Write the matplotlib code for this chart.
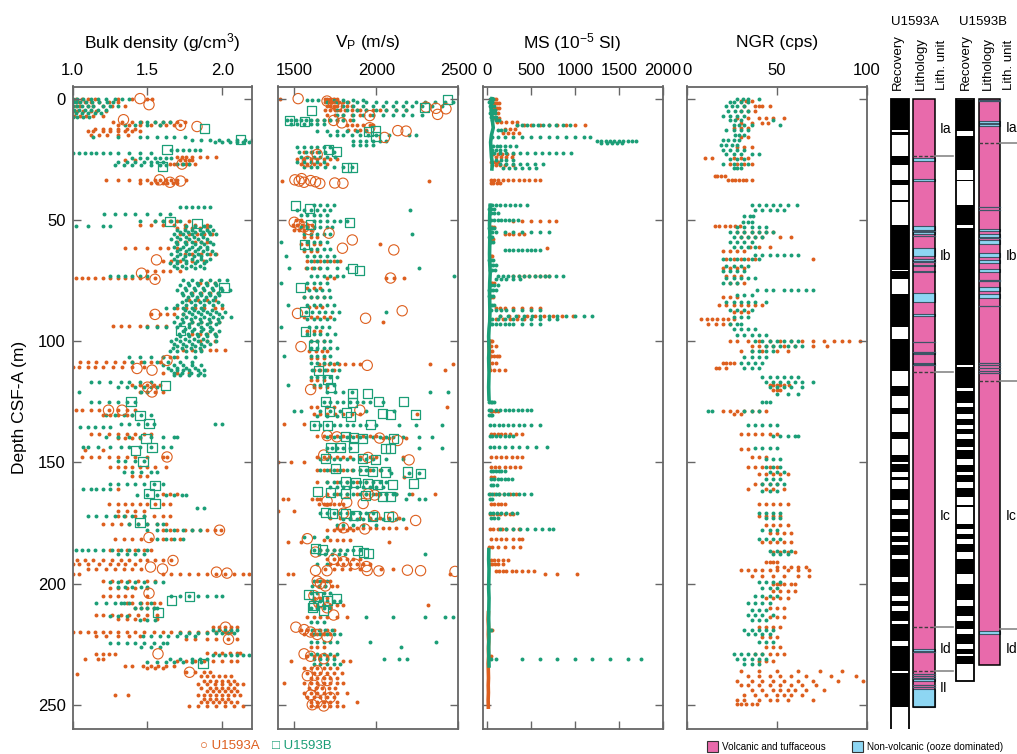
import numpy as np
import matplotlib
matplotlib.use("Agg")
import matplotlib.pyplot as plt
from matplotlib.patches import Rectangle

plt.rcParams['font.family'] = ['Liberation Sans', 'DejaVu Sans']
plt.rcParams['mathtext.fontset'] = 'custom'
plt.rcParams['mathtext.rm'] = 'Liberation Sans'
plt.rcParams['mathtext.it'] = 'Liberation Sans:italic'

ORANGE = '#dd5f1e'
GREEN = '#1b9e77'
PINK = '#e86aab'
BLUE = '#8dd6f3'
SPINE = '#666666'

# ---- data: each row is "depth: value value ..." (depth in m CSF-A) ----
dens_a = """
0: 1.02 1.06 1.1 1.15 1.3 1.4 1.5 1.53
1.5: 1.0 1.04 1.08 1.12 1.18 1.24 1.3
3: 1.02 1.05 1.1 1.14 1.2 1.26 1.35
5: 1.0 1.03 1.07 1.12 1.16 1.22
7: 1.01 1.05 1.09 1.14 1.2
9.5: 1.27 1.33 1.4 1.46 1.55 1.6 1.65 1.7 1.75
11: 1.3 1.38 1.45 1.52 1.58 1.62 1.68 1.72
12.5: 1.15 1.2 1.25 1.3 1.36 1.42
13.5: 1.1 1.14 1.2 1.25 1.3 1.35 1.4 1.45
15: 1.12 1.18 1.23 1.3 1.37
24: 1.7 1.73 1.76 1.8 1.85 1.9 1.96
25.5: 1.35 1.42 1.72 1.75 1.78 1.8
27: 1.65 1.68 1.7 1.73 1.76 1.78 1.82
33.5: 1.22 1.3 1.38 1.45 1.5 1.55 1.58 1.62 1.66 1.7 1.76
35: 1.45 1.52 1.56 1.6 1.63 1.67 1.7
50.5: 1.55 1.6 1.65 1.7 1.78
52: 1.45 1.52 1.6 1.68 1.75 1.82 1.9
53.5: 1.7 1.75 1.8 1.85 1.9
56: 1.72 1.78 1.83 1.88 1.93
59: 1.7 1.76 1.82 1.86 1.9
61.7: 1.35 1.42 1.5 1.58 1.64 1.7
64: 1.75 1.8 1.86 1.92 1.96
67: 1.6 1.66 1.72 1.8 1.88
71: 1.5 1.55 1.6 1.65 1.72
74: 1.02 1.06 1.1 1.15 1.2 1.25 1.3 1.35 1.4 1.45 1.5 1.55
76: 1.85 1.9 1.95
80: 1.8 1.86 1.92 1.97
83: 1.78 1.84 1.9 1.95
86.5: 1.7 1.76 1.82 1.88 1.95 2.0
89: 1.52 1.58 1.63 1.68 1.74
92: 1.8 1.86 1.92 1.98
93.8: 1.27 1.32 1.38 1.45 1.5 1.56 1.62
97: 1.8 1.85 1.9 1.95
100: 1.85 1.9 1.95
103.7: 1.74 1.8 1.86 1.92 1.96 2.02
106.5: 1.6 1.65 1.7
108.5: 1.05 1.1 1.16 1.22 1.28 1.34 1.4 1.46 1.52 1.58
110.5: 1.0 1.04 1.1 1.15 1.2 1.27 1.33 1.4 1.48
113: 1.6 1.7 1.78
118: 1.4 1.45 1.5 1.54 1.58
121: 1.45 1.5 1.55 1.6
128.5: 1.02 1.06 1.12 1.18 1.24 1.3 1.36 1.42
130.5: 1.2 1.25 1.3 1.36 1.4
138.5: 1.12 1.18 1.24 1.3 1.36 1.42 1.48 1.52
140: 1.3 1.35 1.4 1.45
145: 1.08 1.2
147.8: 1.06 1.12 1.18 1.24 1.3 1.36 1.42 1.5 1.6 1.63
152: 1.25 1.3 1.35 1.4 1.45 1.5 1.55 1.62
155.5: 1.4 1.45 1.5
161: 0.99 1.3
163: 1.6 1.65 1.7
167: 1.24 1.3 1.35 1.4 1.45 1.5 1.55 1.6 1.65
170: 1.3 1.36 1.42 1.48
172: 1.3 1.35 1.42 1.48 1.54 1.6 1.65
175.3: 1.2 1.26 1.32 1.38 1.44 1.5 1.56 1.62
178: 1.6 1.65 1.7 1.75 1.8 1.85 1.9 1.95 1.99
181.5: 1.28 1.34 1.4 1.46 1.52 1.6 1.66 1.72
186: 1.25 1.3 1.36 1.42 1.48 1.52
190.5: 1.03 1.08 1.14 1.2 1.26 1.32 1.38 1.45 1.5 1.55 1.6 1.66
192: 1.0 1.04 1.1 1.18 1.25 1.3 1.35 1.42
194: 1.1 1.16 1.22 1.28 1.34 1.4 1.46
196: 1.0 1.04 1.6 1.66 1.72 1.78 1.84 1.9 1.96 2.02 2.08 2.14 2.18
199: 1.2 1.26 1.32 1.38 1.44 1.5 1.55
202: 1.25 1.3 1.36 1.42 1.5
205: 1.2 1.25 1.3 1.35 1.4 1.5
208: 1.36 1.4 1.46 1.5 1.54 1.58
210: 1.42 1.46 1.5 1.54
213: 1.16 1.2 1.26 1.32 1.38 1.44 1.5 1.56
214.5: 1.3 1.36 1.42 1.48 1.56
218: 1.94 1.98 2.02 2.06 2.1
220: 1.0 1.05 1.1 1.15 1.2 1.25 1.3 1.36 1.42 1.48 1.54 1.6 1.66 1.72 1.78 1.84 1.9 1.96 2.02 2.06
221.5: 1.16 1.22 1.3 1.38 1.45
223: 1.76 1.82 1.9 1.96 2.04 2.1
228.5: 1.9 1.95 2.0 2.05 2.1 2.12
229: 1.16 1.2 1.24 1.28
231: 1.08 1.17 1.2
232: 1.7 1.76 1.82 1.88 1.94 2.0 2.06 2.1
234: 1.35 1.4 1.47 1.52 1.57 1.62 1.68
235: 1.5 1.55 1.6
236.6: 1.76 1.82 1.88 1.92
237.3: 1.03
238: 1.86 1.9 1.94 1.98 2.02 2.06
240: 1.88 1.92 1.96 2.0 2.04 2.08
241.5: 1.84 1.9 1.95 2.0 2.05 2.1 2.14
243: 1.86 1.92 1.96 2.0 2.04 2.08
244.5: 1.9 1.94 1.98 2.02 2.06 2.1
246: 1.28 1.37 1.84 1.88 1.92 1.96 2.0 2.04 2.08 2.12
247.5: 1.88 1.92 1.96 2.0 2.04
249: 1.86 1.9 1.94 1.98 2.02 2.06 2.1
250.5: 1.78 1.84 1.9 1.96 2.02 2.08 2.14
"""

dens_b = """
0: 1.0 1.03 1.07 1.12 1.17 1.22 1.28 1.33 1.38
1.5: 1.0 1.02 1.05 1.09 1.13 1.18 1.23 1.27
3: 1.0 1.03 1.06 1.1 1.14 1.2 1.25 1.3
4.5: 1.01 1.04 1.08 1.12 1.17 1.22
6: 0.99 1.02 1.06 1.1 1.15 1.19
7.5: 1.0 1.03 1.07 1.11
9.5: 1.45 1.5 1.55 1.6 1.65
11: 1.35 1.42 1.5 1.58
15.8: 1.14 1.3 1.45 1.5 1.56 1.62 1.68 1.75
17: 1.8 1.86 1.92 1.98 2.04 2.1 2.15 2.2
18: 1.95 2.0 2.05 2.1 2.14 2.18
21: 1.66 1.7 1.74 1.78 1.82 1.85
22.5: 1.0 1.04 1.08 1.12 1.16 1.2 1.25 1.3 1.38 1.45 1.52
24.5: 1.4 1.45 1.5 1.55 1.58 1.62 1.66
26: 1.3 1.36 1.42 1.48 1.52 1.56 1.6
26.8: 1.7 1.74 1.78
27.5: 1.28 1.34 1.4 1.46 1.52 1.58 1.62
44.5: 1.72 1.76 1.8 1.84 1.88 1.92
47.5: 1.21 1.28 1.35 1.42 1.5 1.58 1.65
50.5: 1.45 1.55 1.6 1.66 1.72
52.6: 1.02 1.1 1.2 1.25 1.76 1.82 1.88 1.92
54: 1.7 1.75 1.8 1.85 1.9 1.94
55: 1.72 1.77 1.82 1.87 1.91
56: 1.68 1.74 1.8 1.86 1.92 1.96
57: 1.7 1.76 1.81 1.87
58: 1.66 1.72 1.78 1.84 1.9
59: 1.69 1.75 1.8 1.86 1.92
60: 1.7 1.76 1.82 1.88 1.94
61: 1.68 1.74 1.8 1.85 1.9
62: 1.72 1.78 1.84 1.9
63: 1.7 1.76 1.82 1.87 1.93
64: 1.66 1.72 1.78 1.84 1.9 1.95
65: 1.7 1.75 1.81 1.86
66: 1.68 1.74 1.8 1.86 1.92
67: 1.7 1.76 1.83 1.89
68: 1.65 1.7 1.76 1.82 1.88
69: 1.68 1.73 1.79 1.85
70: 1.7 1.76 1.82 1.88
73: 1.25 1.3 1.35 1.4 1.45 1.5
75: 1.74 1.8 1.86 1.92 1.98 2.03
76: 1.77 1.83 1.89 1.95
77: 1.72 1.78 1.84 1.9 1.96
78: 1.75 1.81 1.87 1.93 1.99
79: 1.7 1.76 1.82 1.88 1.94 2.0 2.05
80: 1.73 1.79 1.85 1.91 1.97
81: 1.74 1.8 1.86 1.92 1.98
82: 1.77 1.83 1.89 1.95
83: 1.76 1.82 1.88 1.94
84: 1.73 1.79 1.85 1.91 1.97
85: 1.7 1.76 1.82 1.88 1.94 2.0
86.5: 1.62 1.68 1.74 1.8 1.86
87.3: 1.75 1.81 1.87 1.93
88: 1.78 1.84 1.9 1.96 2.02
89: 1.74 1.8 1.86 1.92 1.98
90: 1.7 1.76 1.82 1.88 1.94 2.0 2.06
91: 1.73 1.79 1.85 1.91 1.97
92: 1.68 1.74 1.8 1.86 1.92 1.98
93: 1.72 1.78 1.84 1.9 1.96
94: 1.5 1.56 1.62 1.7 1.78 1.86 1.92
95: 1.75 1.81 1.87 1.93
96: 1.74 1.8 1.86 1.92 1.98
97: 1.71 1.77 1.83 1.89 1.95
98: 1.72 1.78 1.84 1.9 1.96
99: 1.69 1.75 1.81 1.87
100: 1.66 1.72 1.78 1.84 1.9 1.96
101: 1.68 1.74 1.8 1.86 1.92
102: 1.7 1.76 1.82 1.88
103: 1.67 1.73 1.79 1.85
104: 1.65 1.7 1.76 1.82 1.86
106.5: 1.38 1.45 1.52 1.6 1.68 1.76 1.82
108.5: 1.4 1.48 1.56 1.64 1.72 1.8
110: 1.6 1.68 1.74 1.8 1.86
111: 1.64 1.7 1.76 1.82
112: 1.66 1.7 1.74 1.78 1.84 1.88
113: 1.68 1.73 1.79 1.85
114: 1.68 1.72 1.78 1.84 1.88
117: 1.12 1.18 1.25 1.32 1.38 1.45 1.52
119: 1.3 1.36 1.42 1.48 1.52 1.56
121: 0.99 1.04 1.46 1.5
125: 1.12 1.18 1.24 1.3 1.36 1.42
130.5: 1.22 1.28 1.34 1.4 1.46 1.52
134: 1.32 1.38 1.44 1.5 1.54 1.95 2.0
135.5: 1.05 1.1 1.15 1.2 1.25
139.5: 1.22 1.3 1.38 1.45 1.52 1.6 1.68 1.7
143.7: 1.07 1.1 1.17 1.25 1.32 1.38 1.45 1.52 1.6 1.66
149.5: 1.3 1.35 1.42 1.48
154: 1.34 1.4 1.46 1.52 1.56
158.8: 1.25 1.3 1.36 1.42 1.48 1.54 1.6
161: 1.07 1.12 1.16 1.2 1.25
163.6: 1.43 1.5 1.56 1.62 1.68 1.73 1.76
169: 1.83 1.88
172: 1.1 1.16 1.22 1.28 1.34 1.4 1.48
175.5: 1.38 1.44 1.5 1.56 1.6
178: 1.5 1.56 1.62 1.68 1.74 1.8 1.85
181.5: 1.56 1.62 1.68 1.74
186: 0.99 1.02 1.06 1.1 1.15 1.2 1.26 1.32 1.38 1.44 1.5
188: 1.3 1.36 1.42 1.48
199.5: 1.25 1.3 1.36 1.42 1.48 1.55 1.6
201.5: 1.3 1.35 1.4 1.46 1.5
205: 1.66 1.72 1.78 1.84 1.9 1.96 2.0
208: 1.16 1.22 1.28 1.32 1.34 1.38 1.45 1.52
210: 1.42 1.46 1.5 1.54 1.56
213.5: 1.25 1.3 1.36
215: 1.45 1.5 1.55
219: 1.94 1.98 2.02 2.06 2.1
220.5: 1.72 1.78 1.84 1.9 1.96 2.0 2.04 2.08
221.5: 1.47 1.52 1.58 1.64 1.7 1.76 1.82
224.5: 1.25 1.3 1.36 1.42 1.48 1.54 1.6 1.63
226: 1.46 1.52 1.58
229.5: 1.94 1.98 2.02 2.06 2.1 2.14 2.18
231: 1.65 1.72 1.8 1.85 1.9
232.5: 1.5 1.56 1.62 1.68 1.74 1.8 1.86
"""

# discrete (MAD) bulk density samples
dens_a_mad_d = [0, 2.5, 8.7, 11, 11.5, 27, 33.5, 34.5, 34, 66.5, 72, 74.5, 89, 108, 111.3, 112, 119, 121,
                128.5, 128.5, 147.8, 178, 181, 190.5, 193.2, 194, 195.3, 195.7, 204, 218, 223, 229, 236.6]
dens_a_mad_v = [1.45, 1.51, 1.34, 1.72, 1.83, 1.73, 1.58, 1.65, 1.72, 1.56, 1.46, 1.55, 1.55, 1.63, 1.43, 1.53, 1.5, 1.53,
                1.24, 1.33, 1.63, 1.98, 1.51, 1.67, 1.52, 1.6, 1.96, 2.03, 1.51, 2.02, 2.04, 1.57, 1.78]
dens_b_mad_d = [12.4, 17, 21, 28, 50.7, 51.4, 77.8, 95.5, 118.2, 125, 130.6, 134, 140.2, 143.7, 145, 149.8,
                159.5, 163, 167, 175, 205.4, 207, 211.8, 233]
dens_b_mad_v = [1.88, 2.12, 1.63, 1.6, 1.65, 1.83, 2.01, 1.72, 1.62, 1.39, 1.45, 1.51, 1.49, 1.53, 1.42, 1.47,
                1.55, 1.51, 1.55, 1.45, 1.78, 1.66, 1.57, 1.87]

vp_a = """
0: 1413 1686 1700 1720 1740 1760
1.5: 1690 1710 1730 1750 1770 1800 1830
3: 1700 1720 1740 1760 1790 1820 1850
4.6: 1690 1720 1750 1780 1810 1850 1880 1900 1940 1980 2020 2060 2120 2180
6.6: 1700 1750 1800 1850 1900 1960
9: 1640 1680 1720 1760 1800 1840
11: 1820 1850 1880 1920 1960 1980
13: 1830 1870 1900 1940
22: 1560 1600 1640
25: 1520 1560 1600 1640 1680 1720 1760
27: 1540 1580 1620 1660 1700
34: 1423 2324
50: 1510 1540
52: 1490 1520 1550 1580 1610
54: 1500 1530 1560 1600
57: 1560 1600 1640
60: 1540 1580 1620 1660 2020
63: 1560 1600 1640
67: 1580 1620 1660 1700 1740 1780
70: 1570 1610 1650
74: 1700 1740 2060 2110 2170
78: 1580 1620 1660
82: 1560 1600 1640 1680
86: 1590 1630 1670
90: 1560 1600 1640 1680 1720
92: 2040
96: 1580 1620 1660
100: 1600 1640 1680
104: 1590 1630 1670 1700
107: 1600 1640 1680
109.5: 1650 1680 1710 1740 1770 1810 1860 1900 2330 2470
112: 1620 1660 1700 1740 2420
116: 1600 1640 1680
119: 1620 1660 1700
127: 1600 1640 1700 1740 2430
130: 1620 1660 1700 1750 1800 1850 1900 2250
134: 1440 1560
139: 1640 1680 1720 1760 1800 1840 1880 1920 1960 2000
140: 2040 2080 2180
147.8: 1640 1680 1720 1760 1800 1840 1900 1960 2000 2160
150: 1400 1480 1560
153: 1640 1680 1720 1760 1800 1850 1900 1960 2020
156: 2170
158: 1640 1700 1760 1820 1880 1940
163: 1700 1760 1820 1880 1940 2000 2060 2120 2220 2360
165: 1430 1460 1610 1640 1660
167: 1650 1680 1700 1720 1740 1770 1800
170: 1400 1500
173: 1720 1780 1840 1900 1960 2020 2080 2140
177: 1760 1800 1840 1880 1920 1960 2000 2040 2080 2120 2180
178: 1700 1740 1780 1820 1860
182: 1680 1720 1760 1800 1840
183: 1460 1540 2080
186: 1660 1700 1740 1780
190: 1700 1740 1780 1820 1860 1900
192: 1720 1760 1800 1840 1880 1920 1960
194: 1690 1740 1790 1840 1900 2030 2100
196: 1460 1490 2450
199: 1640 1680 1720
201: 1650 1690 1730 1760
206: 1620 1660 1700
209: 2314 1640 1680 1720 1760 1800
214: 1580 1620 1660 1700 1760 1820
219: 1540 1580 1620 1660 1700 1740
221: 1560 1600 1640 1680 1720
226: 1600 1640 1680
230: 1580 1620 1660 1700 1740
232: 1480 1800 1840
235: 1560 1600 1640 1680 1720 1760
237: 1580 1620 1660 1700 1740 1790
239: 1600 1640 1680 1720 1760
241: 1440 1560 1600 1640 1680 1720 1760 1800
243: 1590 1630 1670 1710 1750
245: 1560 1600 1640 1680 1720 1760 1820
247: 1580 1620 1660 1700 1740
249: 1600 1640 1680 1720 1760 1880
250.5: 1600 1640 1680 1720 1760 1800
"""

vp_b = """
0.5: 1575 1610 1645 1740 1800 1860 1920
1.5: 1700 1760 1820 1880 1940 2000 2060 2120 2180 2240 2300 2360 2420 2465
3: 1800 1860 1920 1980 2040 2100 2160 2220 2280 2340 2400
4.5: 1760 1820 1880 1940 2000 2060 2120 2180
6.8: 1760 1800 1860 1920 1980 2040 2100 2160 2220 2280
9: 1453 1480 1510 1540 1570 1600 1640 1680 1720 1760 1800 1858
10.5: 1480 1520 1560 1600 1640 1680
13.5: 1640 1700 1760 1820 1880 1940
15: 1716 1760 1800 1850 1900 1950 2000 2080 2200 2240
17.5: 1860 1900 1940 1980 2020 2060
19: 1860 1900 1940 1980
20: 1520 1560 1600 1640 1680 1720
22: 1530 1570 1610 1650 1690 1740
24: 1540 1580 1620 1660 1700 1750
26: 1520 1560 1600 1640 1680
28: 1560 1600 1640 1690 1740 1800 1850
44: 1620 1660 1700 1740
46: 1520 1560 1600 1640 1680 1720 2208
48: 1540 1580 1620 1660 1700
50.5: 1620 1660 1700 1740 1780 1820
53: 1540 1580 1620 1660 1700 1730
56: 1560 1600 1640 1680 1720 2218
59: 1420 1580 1620 1660 1700
62: 1560 1600 1640 1680 1720
65: 1450 1580 1620 1660 1700 1740
67: 1600 1640 1680 1720 1760
70: 1470 1580 1620 1660 1700 1760 1820 2259
73: 1600 1640 1680 1720 1760 1800 2471
76: 1420 1580 1620 1660 1700
79: 1590 1630 1670 1710
82: 1560 1600 1640 1680 1720
85: 1460 1580 1620 1660 1700 1740
88: 1570 1610 1650 1690 1730 1770 2060
91: 1580 1620 1660 1700 1740
94: 1420 1590 1630 1670 1710
97: 1580 1620 1660 1700 1750
100: 1600 1640 1680 1720
103: 1600 1640 1680 1720 1760
106: 1440 1600 1640 1680 1720
109: 1600 1640 1680 1720 1760
112: 1610 1650 1690 1730 1770
115: 1600 1640 1680 1720 1760
118: 1460 1620 1660 1700 1740
121: 1700 1750 1800 1850 2330 2440
125: 1680 1720 1760 1800 1840 1880 1920 1960 2040
129: 1500 1540 1660 1720 1780 1940 2110
131: 1640 1700 1760
134.5: 1620 1660 1700 1740 1780 1820 1860 1900 1940 2000 2140 2240 2400
139.5: 1700 1740 1780 1820 1860 1900 1940 1980 2020 2060 2100 2160 2260 2340
144: 1700 1730 1760 1800 1840 2260 2400
148.5: 1660 1700 1740 1780 1820 1860 1900 1940 1980 2060 2160
153: 1660 1700 1740 1780 1820 1860 1900 1940 1980 2030 2080
154.5: 2090 2200 2260
158: 1700 1740 1780 1820 1860 1900 1940 1980 2020 2060
160: 1720 1760 1800 1840 1880 1920 1960 2000 2040
163: 1740 1780 1820 1860 1900 1940 1980 2020 2060 2100 2120 2200
165: 2180 2260 2300
171: 1660 1700 1740 1780 1820 1860 1900 1940 1980
173.5: 1800 1840 1880 1920 1960 2000 2040 2080 2120 2160
176: 1760 1800 1860 1920 2000
181: 1560 1620 1700
186: 1620 1660 1700 1740 1780 1820 1860 1900
188: 1650 1690 1730 1770 1810 2300
192: 1640 1700
199: 1620 1660 1700
201: 1610 1650 1690
204: 1600 1640 1680 1720
207: 1620 1660 1700 1740 1780
210: 1600 1640 1680 1720
214: 1940 2100 2300 2420 2465
216: 1600 1640 1680
219: 1610 1650 1690 1730
221: 1620 1660 1700 1740 1780
224: 1600 1640 1680 1720 1760 1960 2364
226: 2152
229: 1600 1640 1680 1720 1760
231: 1620 1660 1700 1740 2050 2140 2190
233: 1620 1660 1700 1740 1780
"""

# discrete P-wave caliper measurements
vp_a_disc = """
0: 1524
1: 1700
2: 1740
3: 1760
3.5: 2303
4: 2364
4.2: 2425
6.5: 2374
7: 1960
9: 1740
10: 1790
12: 1960
13.2: 2131
13.4: 2182
16: 2050
23: 1640
26: 1580
33: 1545
33.5: 1504
33.8: 1600
34: 1530
34.3: 1630
34.5: 1560
34.8: 1747
34.9: 1797
35: 1656
51: 1500
52: 1530
53: 1560
54: 1590
55.5: 1712
58.3: 1854
61.7: 1794
62.4: 2107
74: 2087
87.5: 2158
88.6: 1520
90.6: 1935
102.3: 1541
110: 1945
120: 1600
128.5: 1900
139: 1700
139.5: 1760
140: 2020
141: 2130
147: 1680
148: 1950
149: 2200
163: 1950
163.5: 1990
166: 1700
166.5: 1820
167: 1920
171: 1800
172: 1990
172.5: 2100
174: 2240
177: 1800
177.5: 1930
181.5: 1580
187: 1630
190: 1740
191: 1800
192: 1870
193: 1940
194.6: 1630 1945
194.7: 1700 2270
194.8: 2016
194.5: 2190
195: 2480
199: 1640
200: 1660
201: 1690
205: 1620
208: 1650
210: 1700
213: 1740
218: 1510
219: 1560
220: 1600
221: 1640
222: 1700
229: 1560
230: 1600
231: 1680
236: 1640
238: 1580
240: 1700
242: 1620
244: 1660
246: 1600
247: 1720
249: 1640
250: 1610
250.5: 1680
"""

vp_b_disc = """
0.5: 2435
3.5: 2293
5: 1605
9: 1470
9.5: 1560
13: 1996
13.4: 1953
15.5: 1996
21: 1710
22: 1760
28.4: 1818
28.6: 1858
44: 1510
45.5: 1591
51: 1838
52: 1600
60: 1560
70: 1854
71: 1895
78: 1540
88: 1560
96: 1570
102: 1620
112: 1650
116: 1700
119: 1720
121.6: 1854
121.8: 1945
125: 1692 2016 2168
125.2: 1854
129: 1713
129.5: 1820
130: 2037
130.2: 2087
130.4: 2240
131: 1840
134.7: 1622
134.8: 1702
134.6: 1965
139.5: 1814
139.8: 1864
140: 1915 2107
143.7: 1723
144: 1783 1864
144.5: 2057
144.4: 2087
148.5: 1692
148.6: 1915
148.8: 1996
152.6: 1753
153.4: 1925
153.6: 1975
154: 2057 2188
154.6: 2269
157.8: 1814
158.3: 1874
158.6: 1945 2228
159: 2006
159.2: 2097
162: 1642
162.6: 1723
163: 1814
163.5: 1935
164.2: 2037
164.3: 2087
170.5: 1692
171: 1733
171.3: 1814
171.8: 1874
172.2: 1975
172.5: 2077
185.5: 1632
186: 1672
186.5: 1885
187: 1925
187.5: 1955
204.5: 1590
205.5: 1640
206: 1760
207: 1700
209: 1620
210: 1610
211: 1680
"""

ms_a = """
0: 60 80 100
2: 70 90 110 130
4: 50 80 110 140
6: 60 90 120
8: 70 100 130
9.5: 110 160 220 280 337
11: 340 420 500 600 700 800 900 1000 1114
12.5: 200 260 320
14: 180 240 300 360
23: 70 120 170 230 290
24: 100 160 220 280
26: 40 60 90 120
27.5: 60 100 150 200 300
33.5: 40 80 120 180 240 300 360 420 480 540 603
35: 40 70 110 150
50.5: 300 400 500 600 700 790
53: 40 60 80
56: 200 250 300 360 420
58: 30 50 70
61.7: 680
65: 40 60
73: 300 360 420 480 540 600 660 710
76: 40 60 80
82: 30 50 70
86.5: 100 150 200 300 400 500 600
89.5: 150 250 350 450 550 650 750 850 980
91: 100 180 260 340 420
100: 20 40 60
102: 20 50 100
104: 30 60
106: 20 50 80 110 130
109: 20 60 100
112: 30 80 140 200
129: 40 60 90 120
138.5: 40 80 120 160 200 260 330 400
147.8: 40 100 160 220 280 340 400
152: 40 90 140 200 260 320 380
156: 40 80
163: 30 80 130 190 260 330
167: 40 80 120 160 200
171.5: 30 70 110 150 200 260 300
177.5: 30 70 120 170 220 300 360
181.5: 40 100 160 220 300 360 400
185: 20 60 120 200 300 380
190.5: 40 80 120 180 240
192: 30 60 90 120 180
195: 100 140 180 220 280 330 400 470 530
196: 659 792 1020
219: 30 60
230: 40
"""

ms_b = """
0: 30 50 70
1.5: 20 40 60
3: 30 50 80
4.5: 40 60 90
6: 30 60 90
7.5: 40 70 100
9: 60 100 140
11: 340 400 460 520 580 640 700 780 860 944
13: 120 160 200
15.8: 53 120 200 300 400 500 600 700 800 900 1000 1100 1171
17.3: 1247 1300 1350 1400 1450 1500 1550 1600 1650 1700
18.5: 1300 1360 1420 1480 1540
19.5: 70 110 150 200 260 330
21: 60 100 150 200
22.5: 80 150 220 300 380 460 540 620 700 780 860 953
25.5: 100 160 220 300
27: 150 220 300 380 460 540 640
28.5: 180 250 320 400 480 560
44: 30 60 100 150 200 260 320 380 450
45.5: 20 40 80
47: 30 50 80 120
50: 40 80 120 160 200 250 300 350
53.5: 25 40 60 80
55: 30 60 100 200 300 400 500 600 700
57: 25 40 55
59: 30 50 70
62.5: 200 250 300 350 400 450 500 550 600
66.5: 25 45 65
68.5: 40 70 100
70.5: 30 60 90
73: 120 180 240 300 360 420 480 540 600 660 700 780 860
74.5: 100 160 220 300 380
77: 30 50 80 120
79: 20 40 70 100
81.5: 20 45 70
85: 30 55 80
87: 50 100 160 220 300 400 500 600
89.5: 150 240 330 420 510 600 700 800 900 1000 1100 1200
91: 60 120 200 300 400 500 600 700 800
93: 30 60 100 150 200 250 300 400 500 600
125: 20 40 60 80
128.5: 20 50 100 150 200 250 300 350 400 450 500
130.5: 20 40 60
134.5: 30 80 130 180 240 300 360 420 500 600
139: 30 60 100 150 200 250 300
143.7: 30 80 140 200 280 360 460 560 680
153.5: 40 70 100 130 160 200
157: 40 80 120 160 200 240 280
159.5: 40 70 110
163: 20 60 100 140 190 240 300 360 420 500
165: 30 60
171: 30 70 110 160 220 280 340
173: 40 80 120
177.4: 148 220 300 380 460 540 620 700 754
219: 40
231: 50 100 400 600 800 1000 1200 1400 1600 1750
"""

# near-zero MS baseline traces (continuous runs of readings)
ms_a_base_d = [100, 103, 106, 109, 112, np.nan, 212, 215, 218, 221, 224, 227, 230, 233, 236, 239, 242, 245, 248, 251]
ms_a_base_v = [25, 22, 28, 24, 30, np.nan, 15, 12, 16, 14, 18, 15, 17, 12, 14, 16, 13, 15, 12, 14]
ms_b_base_d = [0, 3, 6, 9, 12, 15, 18, 21, 24, 27, 29, np.nan, 44, 48, 52, 56, 60, 64, 68, 72, 76, 80, 84, 88, 92,
               95, 98, 101, 104, 107, 110, 113, 116, 119, 122, 124, np.nan, 186, 190, 194, 198, 202, 206, 210, 214,
               218, 222, 226, 230, 234]
ms_b_base_v = [55, 45, 50, 60, 70, 50, 40, 45, 50, 60, 55, np.nan, 35, 30, 28, 32, 30, 28, 30, 35, 30, 28, 30, 32, 30,
               22, 18, 20, 22, 18, 20, 22, 20, 18, 20, 22, np.nan, 20, 18, 22, 20, 18, 22, 20, 18, 20, 22, 18, 20, 22]

ngr_a = """
1: 30 33 36
3: 32 38 42 46 40
5: 30 34 38
8: 28 34 40 44 48 54
10: 30 36 42 45
12: 26 30 34
16: 30 34
20: 28 32 36
24.5: 10 14 26 30 34
27: 24 28 32 36
32: 15.7 17 19 21.3
33.5: 23 25 27 29 31 33 36
52.5: 15.7 18 21 24 27 29.6
55: 28 32 36 40 44 48
57: 30 34 38 42 52 58
61: 35 40 46
63: 20 24 28 32
66: 22 26 30 34 38 70
70: 20 24 28 32
73: 22 26 30
76: 24 28 32
82: 20 24 28
85: 18 22 26 30 34 38 42
88: 26 30 34
91: 8 11 14 17 20 23 26
93: 12 16 20 24
100: 24 28 34 40 46 52 58 64 70 76 82 86 90 96
102: 36 40 44 48 54 60 70 78
104: 30 36 42 50 56
109: 20 22 24 26
111: 16 18 22
118: 46 48 50 52 54 57
120: 48 50 52
129: 20 24 28 32 36 40 44
130: 26 30
138.5: 30 34 38 42 46 50
144.5: 30 34
148: 36 40 44
152: 34 38 42 46 50
155: 40 44 48 52 56
159: 38 42 46 50
161: 34 44 48 54
167: 40 44 48 52 56
172: 40 44 48 52
176: 44 48 52 56
179: 46 50 54 58
183: 42 46 50 54 58
187: 48 52 56 60
191: 44 46 48 50
193: 50 54 58 62 66
194.6: 30 34 38 42 46 50 56 62 68
197: 36 42 48 54 62 68
200: 48 50 52 54 58 60
203: 48 52 56 60
206: 44 48 52 56
210: 46 50 54
214: 46 50 54
218: 40 44 48 52
222: 42 46 50
226: 44 48 52
229: 38 42 46 50 54
232: 40 44 48
236: 30 40 50 62 74 86
238: 34 40 46 52 58 66 80 94
240: 28 36 42 48 54 62 70 84 98
242: 30 34 40 46 52 58 64 72
244: 36 42 48 52 56 60 66 76
246: 32 38 44 50 54 58 64
248: 28 32 40 46 50 56 70
249.5: 28 30 33 36 39
"""

ngr_b = """
0: 28 31 34 40
1.5: 24 26 30 34
3: 22 25 28 32
5: 23 27 30 34
7: 20 24 28 32
9: 24 27 30 48
11: 26 29 32 36 52
13: 22 26 30 34
15: 27 29 32
17: 20 23 26 29
19: 19 22 25 28
21: 20 24 28 32
23: 22 26 30 36 40
25: 24 28 32
27: 20 26 30 34
28.5: 26 28 30
44: 36 40 44 48 52 56 61
46: 38 42 46 50 54
48.5: 32 35 37
51: 31 34 36
53: 28 32 36 40 44
55: 24 28 32 36 40 44 48
57: 26 30 34 38 42
59: 24 28 32 36
61: 26 30 34 38
64.5: 38 42 46 50 54 58 62
66: 20 24 28 32 36 40
69: 22 26 30 34
71: 20 24 28 32
74: 22 26 30 34 38
76: 20 24 28
79: 39 44 48 54 58 62 66 70
81: 28 32 36
84: 22 26 30 34 38 44
87: 24 28 32 36
90: 26 30 34
93: 24 28 30
95: 26 30 34 38
97.5: 28 32 36 40 44
100: 38 42 46 50 54 58 62
102: 44 48 52 56 60 64
104: 36 40 44 48
106.5: 32 36 40 44
109: 30 34 38 42
111: 32 36 40
115: 42 46 50 54 58 62
117: 44 48 52 56 60 64 70
119: 46 50 54 58 64
122: 50 56 62
125: 42 44 46
129: 12 14 32 36 40
134.5: 34 38 42 46 50
139: 48 52 56 60 62
144: 38 42 46 50
148.5: 44 48 52
152: 44 48 52
154: 46 50 54
157: 44 48 52
159: 42 46 50 54
162: 42 46 50
171: 40 44 48 52
173: 44 48 52
178: 42 46 50
181.5: 40 44 48 52
186.5: 46 50 54 58
188: 48 52 56
199.5: 40 44 48 52
202: 42 46 50
205: 38 42 46 50
208: 34 38 42 46
211: 36 40 44
213: 34 38 42 48
215: 36 40 44
219: 32 36 40 44 48
221: 34 38 42 46
224: 40 44 48
229: 26 30 34 38 42
231: 28 32 36 40 44
233: 32 36 40
"""

# core recovery (recovered intervals, m) and lithology
rec_a = [(0, 13.1), (13.9, 14.9), (23.8, 27.3), (33.5, 35.5), (42, 42.5), (52, 70.5), (71, 74.4), (80.6, 94.4),
         (99.2, 112.3), (118.5, 122.6), (127.8, 129.9), (137.5, 140.2), (147.1, 149.9), (150.6, 154),
         (156.1, 157.5), (160.9, 165.7), (169.2, 171.9), (173.3, 178.8), (180.2, 183), (184.3, 188.4),
         (189.8, 197.4), (199.5, 205), (207, 209.1), (211.2, 215.3), (216.7, 223.6), (225.6, 236), (236.7, 251.1)]
rec_b = [(0.4, 13.5), (15.6, 29.4), (33.5, 33.9), (43.8, 52), (53.4, 109.9), (110.6, 119.5), (120.5, 125.5),
         (127.2, 129.9), (132, 134.7), (136.1, 138.2), (140.2, 143.7), (145, 148.5), (151.3, 154), (155.4, 158.1),
         (160.5, 164.3), (167.8, 168.5), (175.4, 177.4), (179.5, 181.6), (183.9, 187.1), (189.8, 196),
         (200.2, 207), (209.1, 213.2), (215.3, 218.8), (220.8, 224.9), (227, 229.1), (229.8, 233.2)]
hole_bottom = {'A': 260.5, 'B': 240.4}
lith_bottom = {'A': 250.8, 'B': 233.5}
nonvolc_a = [(24.6, 25.6), (33.2, 33.9), (52.4, 54.1), (55.2, 55.8), (61.7, 65.1), (66.3, 67), (68.5, 69),
             (71, 71.5), (80.3, 83.7), (88.9, 89.6), (105, 105.5), (109, 109.5), (227, 228), (239.5, 240.3),
             (243.3, 250.8)]
nonvolc_b = [(9.3, 9.9), (10.5, 11.1), (53.8, 54.8), (55.7, 57.1), (58.2, 60), (63.5, 65.4), (66.5, 67.9),
             (70.4, 71.7), (77.5, 79.2), (80.5, 82.3), (219.4, 220.8)]
beds_a = [54.8, 56.6, 66, 67.5, 100.2, 104.5, 109.8, 228.4, 237.3, 238.2, 239.1, 241.8, 242.6]
beds_b = [0.4, 1.0, 44.7, 45.8, 57.6, 74.8, 75.4, 85.5, 109.2, 110, 111, 112.2, 113.3]
units_a = [23.5, 112.8, 218.1, 236]
units_b = [18.1, 116.4, 218.9]
unit_names_a = ['Ia', 'Ib', 'Ic', 'Id', 'II']
unit_mid_a = [12.7, 65, 172, 227, 243]
unit_names_b = ['Ia', 'Ib', 'Ic', 'Id']
unit_mid_b = [12, 65, 172, 227]


def streaks(txt):
    d, v = [], []
    for line in txt.strip().splitlines():
        depth, vals = line.split(':')
        for x in vals.split():
            d.append(float(depth))
            v.append(float(x))
    return np.array(d), np.array(v)


W, H = 1017, 754
fig = plt.figure(figsize=(W / 100, H / 100), dpi=100)


def fx(x):
    return x / W


def fy(y):
    return 1 - y / H


ax_top, ax_bot = 86.5, 729
panels = [
    (72.5, 'Bulk density (g/cm$^3$)', (1.0, 2.2), [1.0, 1.5, 2.0], ['1.0', '1.5', '2.0']),
    (278.3, 'V$_\\mathrm{P}$ (m/s)', (1403, 2500), [1500, 2000, 2500], ['1500', '2000', '2500']),
    (482.7, 'MS (10$^{-5}$ SI)', (-50, 2000), [0, 500, 1000, 1500, 2000], ['0', '500', '1000', '1500', '2000']),
    (686.7, 'NGR (cps)', (0, 100), [0, 50, 100], ['0', '50', '100']),
]
axes = []
for i, (left, title, xl, xt, xtl) in enumerate(panels):
    ax = fig.add_axes([fx(left), fy(ax_bot), fx(180), (ax_bot - ax_top) / H])
    ax.set_xlim(*xl)
    ax.set_ylim(260, -5)
    ax.set_xticks(xt)
    ax.set_xticklabels(xtl)
    ax.set_yticks([0, 50, 100, 150, 200, 250])
    ax.tick_params(axis='both', direction='in', length=6, width=1.0, color=SPINE, labelsize=12,
                   top=True, bottom=True, left=True, right=True, labeltop=True, labelbottom=False,
                   labelleft=(i == 0))
    ax.tick_params(axis='x', pad=6)
    ax.tick_params(axis='y', pad=5)
    for s in ax.spines.values():
        s.set_color(SPINE)
        s.set_linewidth(1.3)
    fig.text(fx(left + 90), fy(43), title, ha='center', va='center', fontsize=12.5)
    axes.append(ax)

fig.text(fx(20), fy((ax_top + ax_bot) / 2), 'Depth CSF-A (m)', rotation=90, ha='center', va='center',
         fontsize=12.5)

dot = dict(s=8, linewidths=0)
circ = dict(s=55, facecolors='none', edgecolors=ORANGE, linewidths=0.8, marker='o')
sq = dict(s=42, facecolors='none', edgecolors=GREEN, linewidths=0.9, marker='s')

# bulk density
ax = axes[0]
d, v = streaks(dens_a)
ax.scatter(v, d, color=ORANGE, **dot)
d, v = streaks(dens_b)
ax.scatter(v, d, color=GREEN, **dot)
ax.scatter(dens_a_mad_v, dens_a_mad_d, **circ)
ax.scatter(dens_b_mad_v, dens_b_mad_d, **sq)

# P-wave velocity
ax = axes[1]
d, v = streaks(vp_a)
ax.scatter(v, d, color=ORANGE, **dot)
d, v = streaks(vp_b)
ax.scatter(v, d, color=GREEN, **dot)
d, v = streaks(vp_a_disc)
ax.scatter(v, d, **circ)
d, v = streaks(vp_b_disc)
ax.scatter(v, d, **sq)

# magnetic susceptibility
ax = axes[2]
ax.plot(ms_a_base_v, ms_a_base_d, color=ORANGE, lw=2.6)
d, v = streaks(ms_a)
ax.scatter(v, d, color=ORANGE, **dot)
ax.plot(ms_b_base_v, ms_b_base_d, color=GREEN, lw=2.6)
d, v = streaks(ms_b)
ax.scatter(v, d, color=GREEN, **dot)

# natural gamma radiation
ax = axes[3]
d, v = streaks(ngr_a)
ax.scatter(v, d, color=ORANGE, **dot)
d, v = streaks(ngr_b)
ax.scatter(v, d, color=GREEN, **dot)

# marker legend under the density/velocity panels
fig.text(fx(200), fy(746), '\u25cb U1593A', color=ORANGE, fontsize=9.5, ha='left', va='center')
fig.text(fx(272), fy(746), '\u25a1 U1593B', color=GREEN, fontsize=9.5, ha='left', va='center')

# ---- recovery / lithology columns ----
cx = fig.add_axes([fx(880), fy(ax_bot), fx(137), (ax_bot - ax_top) / H])
cx.set_xlim(0, 137)
cx.set_ylim(260, -5)
cx.axis('off')

cols = {'A': dict(rec=10.7, lit=33.3, unit=55.0, recs=rec_a, blue=nonvolc_a, beds=beds_a,
                  units=units_a, names=unit_names_a, mids=unit_mid_a),
        'B': dict(rec=75.7, lit=98.7, unit=120.0, recs=rec_b, blue=nonvolc_b, beds=beds_b,
                  units=units_b, names=unit_names_b, mids=unit_mid_b)}
cw = 18.6
lw_ = 21.7
for hole, c in cols.items():
    r0 = c['rec']
    for top, bot in c['recs']:
        cx.add_patch(Rectangle((r0, top), cw, bot - top, facecolor='black', edgecolor='none'))
    cx.add_patch(Rectangle((r0, 0), cw, hole_bottom[hole], facecolor='none', edgecolor='black', lw=1.3))
    l0 = c['lit']
    cx.add_patch(Rectangle((l0, 0), lw_, lith_bottom[hole], facecolor=PINK, edgecolor='none'))
    for top, bot in c['blue']:
        cx.add_patch(Rectangle((l0, top), lw_, bot - top, facecolor=BLUE, edgecolor='#3d5566', lw=0.8))
    for b in c['beds']:
        cx.plot([l0, l0 + lw_], [b, b], color='#3d5566', lw=0.9)
    for k, u in enumerate(c['units']):
        solid_only = (hole == 'B' and k == 2)
        if not solid_only:
            cx.plot([l0, l0 + lw_], [u, u], color='#3d3d3d', lw=1.0, ls=(0, (2.5, 1.5)))
        cx.plot([l0 + lw_, l0 + lw_ + 17.5], [u, u], color='#888888', lw=1.2, clip_on=False)
    cx.add_patch(Rectangle((l0, 0), lw_, lith_bottom[hole], facecolor='none', edgecolor='black', lw=1.1))
    for name, m in zip(c['names'], c['mids']):
        cx.text(l0 + lw_ + 5, m, name, fontsize=10, ha='left', va='center')

for xc, label in [(915, 'U1593A'), (983, 'U1593B')]:
    fig.text(fx(xc), fy(22), label, ha='center', va='center', fontsize=9.5)
for xc, label in [(898, 'Recovery'), (920.5, 'Lithology'), (942, 'Lith. unit'),
                  (966, 'Recovery'), (988, 'Lithology'), (1009, 'Lith. unit')]:
    fig.text(fx(xc), fy(90), label, rotation=90, ha='center', va='bottom', fontsize=9.5)

# lithology legend
for x0, colr, label in [(707, PINK, 'Volcanic and tuffaceous'), (852, BLUE, 'Non-volcanic (ooze dominated)')]:
    fig.patches.append(Rectangle((fx(x0), fy(752)), fx(11), 11 / H, transform=fig.transFigure,
                                 facecolor=colr, edgecolor='#333333', lw=0.8))
    fig.text(fx(x0 + 15), fy(746.5), label, fontsize=7.1, ha='left', va='center')

fig.savefig('out.png', dpi=100)
